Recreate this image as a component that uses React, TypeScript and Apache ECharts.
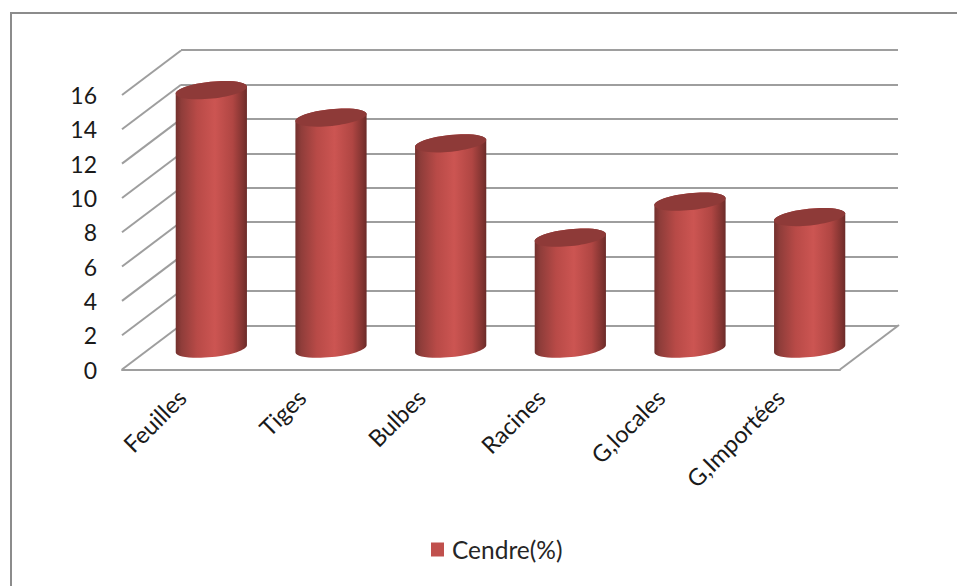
import React, { useEffect, useRef } from "react";
import * as echarts from "echarts";

const categories = ["Feuilles", "Tiges", "Bulbes", "Racines", "G,locales", "G,Importées"];
const ashValues = [15.1, 13.5, 12.0, 6.5, 8.6, 7.7];
const wallTicks = [0, 2, 4, 6, 8, 10, 12, 14, 16];
const seriesName = "Cendre(%)";

const FONT = "Lato, sans-serif";
const GRID_COLOR = "#9e9e9e";
const DEPTH_X = 59;
const DEPTH_Y = 44.5;
const RADIUS_X = 35.8;
const RADIUS_Y = 8.4;
const TILT_DEG = -6;

// Half of a tilted ellipse as two cubic curves, from the angle `start` to `start + PI`.
function halfEllipse(cx: number, cy: number, start: number): string {
  const tilt = (TILT_DEG * Math.PI) / 180;
  const k = 0.5523;
  const place = (u: number, v: number): string => {
    const x = cx + u * RADIUS_X * Math.cos(tilt) - v * RADIUS_Y * Math.sin(tilt);
    const y = cy + u * RADIUS_X * Math.sin(tilt) + v * RADIUS_Y * Math.cos(tilt);
    return `${x} ${y}`;
  };
  // start 0 runs right end -> top -> left end; start PI runs left end -> bottom -> right end
  const s = start === 0 ? 1 : -1;
  return (
    `C ${place(s, -s * k)} ${place(s * k, -s)} ${place(0, -s)} ` +
    `C ${place(-s * k, -s)} ${place(-s, -s * k)} ${place(-s, 0)} `
  );
}

export default function App() {
  const ref = useRef<HTMLDivElement>(null);

  useEffect(() => {
    document.body.style.margin = "0";
    document.body.style.background = "#ffffff";
    const chart = echarts.init(ref.current!, undefined, { renderer: "svg" });

    const tilt = (TILT_DEG * Math.PI) / 180;
    const endX = RADIUS_X * Math.cos(tilt);
    const endY = RADIUS_X * Math.sin(tilt);

    const bodyGradient = new echarts.graphic.LinearGradient(0, 0, 1, 0, [
      { offset: 0, color: "#73302d" },
      { offset: 0.08, color: "#8f3d3a" },
      { offset: 0.3, color: "#b84a47" },
      { offset: 0.55, color: "#cc5552" },
      { offset: 0.8, color: "#b04643" },
      { offset: 0.95, color: "#7f3330" },
      { offset: 1, color: "#6b2b29" },
    ]);

    chart.setOption({
      animation: false,
      backgroundColor: "#ffffff",
      textStyle: { fontFamily: FONT },
      legend: {
        data: [{ name: seriesName, icon: "rect" }],
        left: 426,
        top: 532,
        itemWidth: 13,
        itemHeight: 14,
        selectedMode: false,
        textStyle: { fontFamily: FONT, fontSize: 24.5, color: "#262626", padding: [0, 0, 0, 3] },
      },
      grid: [
        { left: 122, top: 95, width: 718, height: 274.5 },
        { left: 181, top: 50, width: 717, height: 275.5 },
      ],
      xAxis: [
        {
          type: "category",
          gridIndex: 0,
          data: categories,
          axisTick: { show: false },
          axisLine: { lineStyle: { color: GRID_COLOR, width: 2 } },
          axisLabel: {
            rotate: 45,
            margin: 24,
            interval: 0,
            fontFamily: FONT,
            fontSize: 23.5,
            color: "#1a1a1a",
          },
        },
        { type: "category", gridIndex: 1, data: categories, show: false },
      ],
      yAxis: [
        {
          type: "value",
          gridIndex: 0,
          min: 0,
          max: 16,
          interval: 2,
          axisLine: { show: false },
          axisTick: { show: false },
          splitLine: { show: false },
          axisLabel: { margin: 25, fontFamily: FONT, fontSize: 23, color: "#1a1a1a" },
        },
        {
          type: "value",
          gridIndex: 1,
          min: 0,
          max: 16,
          interval: 2,
          axisLine: { show: false },
          axisTick: { show: false },
          axisLabel: { show: false },
          splitLine: { show: true, lineStyle: { color: GRID_COLOR, width: 2 } },
        },
      ],
      series: [
        {
          // Receding side-wall lines and the right edge of the floor
          type: "custom",
          name: "wall",
          xAxisIndex: 0,
          yAxisIndex: 0,
          silent: true,
          clip: false,
          data: wallTicks.map((t) => [0, t]),
          renderItem: (params: any, api: any) => {
            const rect = params.coordSys;
            const y = api.coord([0, api.value(1)])[1];
            const style = { stroke: GRID_COLOR, lineWidth: 2, fill: "none" };
            const diagonal = (x: number) => ({
              type: "line",
              shape: { x1: x, y1: y, x2: x + DEPTH_X, y2: y - DEPTH_Y },
              style,
            });
            const lines: any[] = [diagonal(rect.x)];
            if (api.value(1) === 0) lines.push(diagonal(rect.x + rect.width));
            return { type: "group", children: lines };
          },
        },
        {
          // Cylinders standing on the floor, halfway into its depth
          type: "custom",
          name: seriesName,
          xAxisIndex: 0,
          yAxisIndex: 0,
          clip: false,
          itemStyle: { color: "#c0504d" },
          data: ashValues.map((v, i) => [i, v]),
          encode: { x: 0, y: 1 },
          renderItem: (_params: any, api: any) => {
            const [fx, fy] = api.coord([api.value(0), api.value(1)]);
            const [, baseY] = api.coord([0, 0]);
            const cx = fx + DEPTH_X / 2;
            const topY = fy - 20.3;
            const botY = baseY - 20.8;
            const body =
              `M ${cx + endX} ${topY + endY} ` +
              halfEllipse(cx, topY, 0) +
              `L ${cx - endX} ${botY - endY} ` +
              halfEllipse(cx, botY, Math.PI) +
              "Z";
            const cap =
              `M ${cx + endX} ${topY + endY} ` +
              halfEllipse(cx, topY, 0) +
              halfEllipse(cx, topY, Math.PI) +
              "Z";
            return {
              type: "group",
              children: [
                { type: "path", shape: { pathData: body }, style: { fill: bodyGradient } },
                { type: "path", shape: { pathData: cap }, style: { fill: "#8e3a38" } },
              ],
            };
          },
        },
      ],
      graphic: [
        {
          type: "polyline",
          silent: true,
          shape: { points: [[11, 586], [11, 13], [957, 13]] },
          style: { stroke: "#8c8c8c", lineWidth: 2, fill: "none" },
        },
      ],
    });

    return () => chart.dispose();
  }, []);

  return <div ref={ref} style={{ width: 957, height: 586 }} />;
}
